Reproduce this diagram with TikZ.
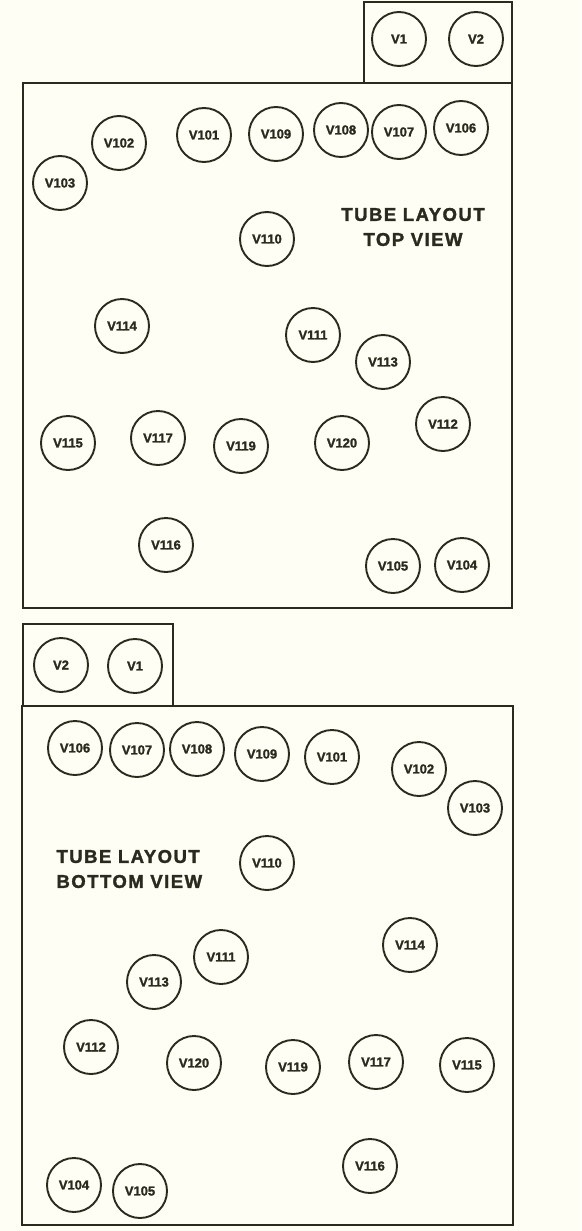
\documentclass[tikz,border=0pt]{standalone}
\usepackage{fontspec}
\setmainfont{Liberation Sans}[BoldFont={Liberation Sans Bold}, BoldFeatures={FakeBold=1.6}]
\newfontfamily\ttlfont{Liberation Sans}[BoldFont={Liberation Sans Bold}, BoldFeatures={FakeBold=1.6, LetterSpace=8}]
\usepackage{tikz}
\usetikzlibrary{positioning}
\usepackage{xcolor}
\definecolor{paper}{HTML}{FEFEF4}
\definecolor{ink}{HTML}{2A2A1E}

\begin{document}
\begin{tikzpicture}[
    x=1pt, y=-1pt,
    tube/.style={circle, draw=ink, line width=1.9pt, minimum size=54pt, inner sep=0pt,
                 font=\fontsize{13}{14}\selectfont\bfseries, text=ink},
    chassis/.style={draw=ink, line width=1.4pt},
    ttl/.style={font=\ttlfont\fontsize{18.5}{25}\selectfont\bfseries, text=ink},
]
\fill[paper] (0,0) rectangle (581,1231);
\useasboundingbox (0,0) rectangle (581,1231);
\draw[chassis] (364,2) rectangle (512,83);
\draw[chassis] (23,83) rectangle (512,608);
\draw[chassis] (23,624) rectangle (173,706);
\draw[chassis] (22,706) rectangle (513,1225);
\foreach \n/\x/\y in {1/399/39, 2/476/39, 102/119/143, 101/204/135, 109/276/134,
    108/341/130, 107/399/132, 106/461/128, 103/60/183, 110/267/239,
    114/122/326, 111/313/335, 113/383/362, 115/68/443, 117/158/438,
    119/241/446, 120/342/443, 112/443/424, 116/166/545, 105/393/566, 104/462/565} {
  \node[tube] (t\n) at (\x,\y) {V\n};
}
\foreach \n/\x/\y in {2/61/665, 1/135/666, 106/75/748, 107/137/750, 108/197/749,
    109/262/754, 101/332/757, 102/419/769, 103/475/808, 110/267/863,
    114/410/945, 111/221/957, 113/154/982, 112/91/1047, 120/194/1063,
    119/293/1067, 117/376/1062, 115/467/1065, 116/370/1166, 104/74/1185, 105/140/1191} {
  \node[tube] (b\n) at (\x,\y) {V\n};
}
\node[ttl, align=center] (toptitle) at (413,227) {TUBE LAYOUT\\TOP VIEW};
\node[ttl, align=left, anchor=west] (bottitle) at (53,869) {TUBE LAYOUT\\BOTTOM VIEW};
\end{tikzpicture}
\end{document}
